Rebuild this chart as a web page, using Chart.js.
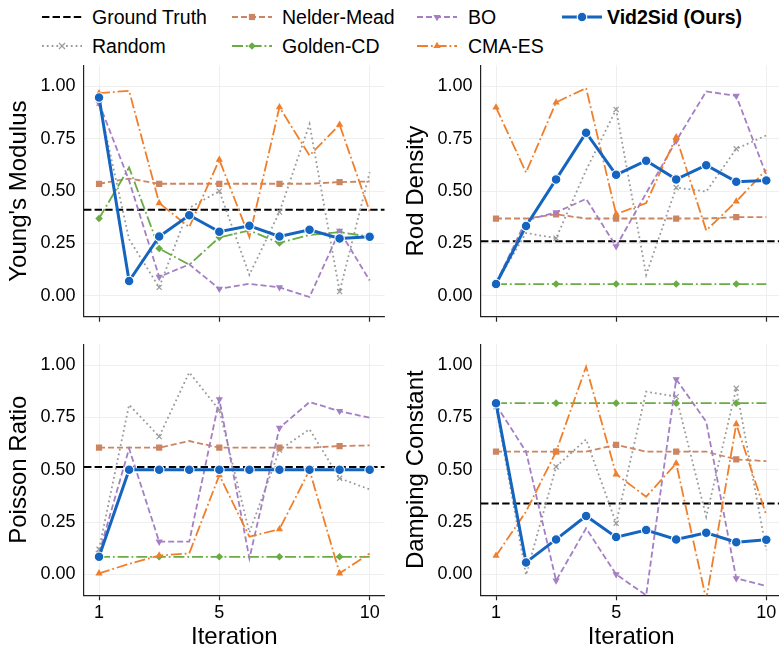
<!DOCTYPE html>
<html>
<head>
<meta charset="utf-8">
<script src="https://cdn.jsdelivr.net/npm/chart.js@4.4.1/dist/chart.umd.min.js"></script>
<style>
html,body{margin:0;padding:0;background:#fff;overflow:hidden;width:779px;height:647px;}
body{position:relative;font-family:"Liberation Sans",Arial,Helvetica,sans-serif;}
canvas{position:absolute;display:block;}
.lg-s{position:absolute;width:40px;height:22px;}
.lg-t{position:absolute;font-size:19.5px;line-height:22px;height:22px;color:#000;white-space:nowrap;}
</style>
</head>
<body>
<div id="legend"></div>
<canvas id="c0" width="392" height="270" style="left:0px;top:58px;width:392px;height:270px"></canvas>
<canvas id="c1" width="400" height="270" style="left:397.3px;top:58px;width:400px;height:270px"></canvas>
<canvas id="c2" width="392" height="320" style="left:0px;top:333px;width:392px;height:320px"></canvas>
<canvas id="c3" width="400" height="320" style="left:397.3px;top:333px;width:400px;height:320px"></canvas>
<script>
// ---------------- data ----------------
const iterations = [1, 2, 3, 4, 5, 6, 7, 8, 9, 10];
const xTicks = [1, 5, 10];
const yTicks = [0, 0.25, 0.5, 0.75, 1.0];
const paramNames = ["Young's Modulus", "Rod Density", "Poisson Ratio", "Damping Constant"];
const groundTruth = [0.411, 0.26, 0.513, 0.339];

// rows: Young's Modulus, Rod Density, Poisson Ratio, Damping Constant
const randomVals = [
  [0.92, 0.27, 0.04, 0.42, 0.50, 0.10, 0.40, 0.82, 0.02, 0.59],
  [0.06, 0.30, 0.275, 0.60, 0.89, 0.10, 0.517, 0.498, 0.702, 0.766],
  [0.12, 0.81, 0.658, 0.965, 0.785, 0.20, 0.594, 0.693, 0.459, 0.406],
  [0.80, -0.003, 0.514, 0.645, 0.244, 0.873, 0.849, 0.275, 0.889, 0.116]
];
const nelderMead = [
  [0.535, 0.56, 0.535, 0.535, 0.535, 0.535, 0.535, 0.535, 0.543, 0.546],
  [0.369, 0.369, 0.389, 0.369, 0.369, 0.369, 0.369, 0.369, 0.376, 0.376],
  [0.605, 0.605, 0.605, 0.637, 0.605, 0.605, 0.605, 0.605, 0.613, 0.616],
  [0.586, 0.586, 0.586, 0.586, 0.619, 0.586, 0.586, 0.586, 0.549, 0.541]
];
const goldenCD = [
  [0.369, 0.613, 0.226, 0.148, 0.279, 0.312, 0.252, 0.291, 0.304, 0.282],
  [0.056, 0.056, 0.056, 0.056, 0.056, 0.056, 0.056, 0.056, 0.056, 0.056],
  [0.084, 0.084, 0.084, 0.084, 0.084, 0.084, 0.084, 0.084, 0.084, 0.084],
  [0.818, 0.818, 0.818, 0.818, 0.818, 0.818, 0.818, 0.818, 0.818, 0.818]
];
const bayesOpt = [
  [0.92, 0.55, 0.09, 0.15, 0.033, 0.057, 0.04, -0.006, 0.31, 0.073],
  [0.06, 0.36, 0.398, 0.463, 0.236, 0.49, 0.74, 0.976, 0.955, 0.578],
  [0.10, 0.601, 0.156, 0.156, 0.836, 0.076, 0.70, 0.823, 0.78, 0.748],
  [0.81, 0.586, -0.03, 0.22, 0.0, -0.10, 0.932, 0.729, -0.019, -0.056]
];
const cmaES = [
  [0.968, 0.979, 0.443, 0.328, 0.650, 0.28, 0.901, 0.670, 0.817, 0.403],
  [0.90, 0.589, 0.924, 0.992, 0.390, 0.443, 0.758, 0.312, 0.451, 0.602],
  [0.005, 0.05, 0.09, 0.10, 0.474, 0.18, 0.216, 0.498, 0.005, 0.10],
  [0.089, 0.30, 0.586, 0.992, 0.478, 0.371, 0.53, -0.12, 0.718, 0.283]
];
const vid2sid = [
  [0.947, 0.070, 0.283, 0.385, 0.306, 0.334, 0.283, 0.315, 0.274, 0.282],
  [0.056, 0.333, 0.556, 0.779, 0.578, 0.645, 0.556, 0.624, 0.545, 0.551],
  [0.084, 0.50, 0.50, 0.50, 0.50, 0.50, 0.50, 0.50, 0.50, 0.50],
  [0.818, 0.057, 0.167, 0.279, 0.178, 0.212, 0.167, 0.199, 0.154, 0.165]
];

// ---------------- styles ----------------
const xRange = [0.5, 10.5];
const yRange = [-0.1, 1.1];
const DASH = [6, 3];
const DOT = [1.8, 3];
const DASHDOT = [11, 2.9, 1.8, 2.9];
const gtStyle = {name: 'Ground Truth', color: '#000000', width: 2, dash: [7.4, 3.2]};
const methods = [
  {name: 'Random', values: randomVals, color: '#9a9a9a', width: 1.8, dash: DOT, pointStyle: 'crossRot', radius: 3.6, pbw: 1.2, every: 2, order: 5},
  {name: 'Nelder-Mead', values: nelderMead, color: '#cc8562', width: 1.8, dash: DASH, pointStyle: 'rect', radius: 4.4, pbw: 0, every: 2, order: 4},
  {name: 'Golden-CD', values: goldenCD, color: '#6aab45', width: 1.8, dash: DASHDOT, pointStyle: 'rectRot', radius: 3.8, pbw: 0, every: 2, order: 3},
  {name: 'BO', values: bayesOpt, color: '#a47fc4', width: 1.8, dash: DASH, pointStyle: 'triangle', rot: 180, radius: 4.2, pbw: 0, every: 2, order: 2},
  {name: 'CMA-ES', values: cmaES, color: '#f07f2c', width: 1.8, dash: DASHDOT, pointStyle: 'triangle', rot: 0, radius: 4.2, pbw: 0, every: 2, order: 1},
  {name: 'Vid2Sid (Ours)', values: vid2sid, color: '#1565c0', width: 3, dash: [], pointStyle: 'circle', radius: 4.8, pbw: 1.1, pborder: '#ffffff', every: 1, order: 0}
];

// ---------------- legend (HTML) ----------------
function markerSVG(m, cx, cy) {
  const c = m.color;
  switch (m.pointStyle) {
    case 'crossRot': { const r = 3; return `<path d="M${cx-r},${cy-r}L${cx+r},${cy+r}M${cx-r},${cy+r}L${cx+r},${cy-r}" stroke="${c}" stroke-width="1.2"/>`; }
    case 'rect': { const s = 3.1; return `<rect x="${cx-s}" y="${cy-s}" width="${2*s}" height="${2*s}" fill="${c}"/>`; }
    case 'rectRot': { const r = 3.8; return `<path d="M${cx},${cy-r}L${cx+r},${cy}L${cx},${cy+r}L${cx-r},${cy}Z" fill="${c}"/>`; }
    case 'triangle': {
      const r = 4.2, h = r * 0.5, w = r * 0.866;
      if (m.rot === 180) return `<path d="M${cx},${cy+r}L${cx+w},${cy-h}L${cx-w},${cy-h}Z" fill="${c}"/>`;
      return `<path d="M${cx},${cy-r}L${cx+w},${cy+h}L${cx-w},${cy+h}Z" fill="${c}"/>`;
    }
    case 'circle': return `<circle cx="${cx}" cy="${cy}" r="4.8" fill="${c}" stroke="#fff" stroke-width="1.1"/>`;
  }
  return '';
}
function sampleSVG(m) {
  const dash = (m.dash && m.dash.length) ? `stroke-dasharray="${m.dash.join(',')}"` : '';
  return `<svg width="40" height="22" viewBox="0 0 40 22"><line x1="0" y1="11" x2="40" y2="11" stroke="${m.color}" stroke-width="${m.width}" ${dash}/>${m.pointStyle ? markerSVG(m, 20, 11) : ''}</svg>`;
}
const legendCols = [{sx: 42, tx: 92}, {sx: 232, tx: 282}, {sx: 417, tx: 468}, {sx: 562, tx: 607}];
const legendRows = [6, 34.5];
const legendItems = [
  [gtStyle, 0, 0], [methods[0], 0, 1],
  [methods[1], 1, 0], [methods[2], 1, 1],
  [methods[3], 2, 0], [methods[4], 2, 1],
  [methods[5], 3, 0]
];
const lg = document.getElementById('legend');
legendItems.forEach(([m, c, r]) => {
  const s = document.createElement('div');
  s.className = 'lg-s';
  s.style.left = legendCols[c].sx + 'px';
  s.style.top = legendRows[r] + 'px';
  s.innerHTML = sampleSVG(m);
  lg.appendChild(s);
  const t = document.createElement('div');
  t.className = 'lg-t';
  t.style.left = legendCols[c].tx + 'px';
  t.style.top = legendRows[r] + 'px';
  t.textContent = m.name;
  if (m.name === 'Vid2Sid (Ours)') t.style.fontWeight = 'bold';
  lg.appendChild(t);
});

// ---------------- charts ----------------
Chart.defaults.font.family = '"Liberation Sans", Arial, Helvetica, sans-serif';
Chart.defaults.color = '#000';

const panelLayout = [
  {padTop: 7.5, padRight: 7.3, xHeight: 11.3, bottomRow: false},
  {padTop: 7.5, padRight: 15.7, xHeight: 11.3, bottomRow: false},
  {padTop: 11.1, padRight: 7.3, xHeight: 57.7, bottomRow: true},
  {padTop: 11.1, padRight: 15.7, xHeight: 57.7, bottomRow: true}
];

function noScalePadding(s) {
  s.paddingTop = 0; s.paddingBottom = 0; s.paddingLeft = 0; s.paddingRight = 0;
}

function makeDatasets(p) {
  const ds = [];
  ds.push({
    label: gtStyle.name,
    data: xRange.map(x => ({x: x, y: groundTruth[p]})),
    borderColor: gtStyle.color, borderWidth: gtStyle.width, borderDash: gtStyle.dash,
    pointRadius: 0, order: 6, tension: 0, fill: false
  });
  methods.forEach(m => {
    ds.push({
      label: m.name,
      data: iterations.map((x, i) => ({x: x, y: m.values[p][i]})),
      borderColor: m.color, borderWidth: m.width, borderDash: m.dash,
      pointStyle: m.pointStyle, pointRotation: m.rot || 0,
      pointRadius: ctx => (m.every === 1 || ctx.dataIndex % 2 === 0) ? m.radius : 0,
      pointBackgroundColor: m.color,
      pointBorderColor: m.pborder || m.color,
      pointBorderWidth: m.pbw,
      order: m.order, tension: 0, fill: false
    });
  });
  return ds;
}

for (let p = 0; p < 4; p++) {
  const L = panelLayout[p];
  new Chart(document.getElementById('c' + p), {
    type: 'line',
    data: {datasets: makeDatasets(p)},
    options: {
      responsive: false, animation: false, events: [],
      layout: {padding: {top: L.padTop, right: L.padRight, bottom: 0, left: 0}},
      plugins: {legend: {display: false}, tooltip: {enabled: false}, title: {display: false}},
      scales: {
        x: {
          type: 'linear', min: xRange[0], max: xRange[1],
          afterBuildTicks: s => { s.ticks = xTicks.map(v => ({value: v})); },
          afterFit: s => { s.height = L.xHeight; noScalePadding(s); },
          grid: {color: '#ebebeb', lineWidth: 0.8, tickColor: '#222', tickLength: 5, tickWidth: 1.2, drawTicks: true},
          border: {color: '#222', width: 1.2},
          ticks: {display: L.bottomRow, font: {size: 18}, color: '#000', padding: 1.9, maxRotation: 0, autoSkip: false,
                  callback: v => String(v)},
          title: {display: L.bottomRow, text: 'Iteration', font: {size: 24}, color: '#000', padding: {top: 0, bottom: 1.6}}
        },
        y: {
          type: 'linear', min: yRange[0], max: yRange[1],
          afterBuildTicks: s => { s.ticks = yTicks.map(v => ({value: v})); },
          afterFit: s => { s.width = 84; noScalePadding(s); },
          grid: {color: '#ebebeb', lineWidth: 0.8, drawTicks: false},
          border: {color: '#222', width: 1.2},
          ticks: {font: {size: 18}, color: '#000', padding: 8.5, callback: v => Number(v).toFixed(2)},
          title: {display: true, text: paramNames[p], font: {size: 24}, color: '#000', padding: {top: 4.8, bottom: 0}}
        }
      }
    }
  });
}
</script>
</body>
</html>
